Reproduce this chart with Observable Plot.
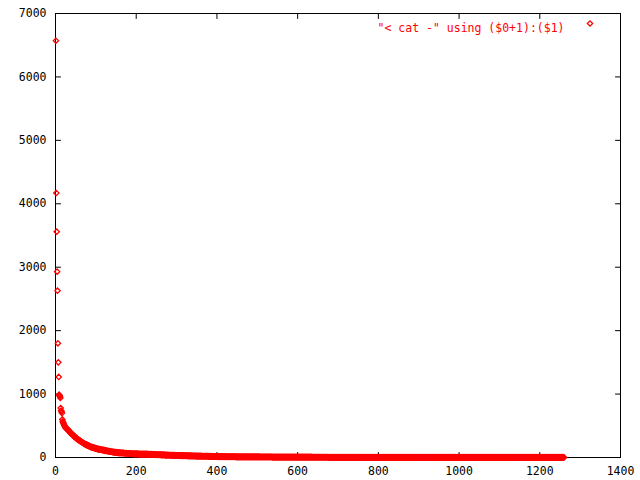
<!DOCTYPE html>
<html>
<head>
<meta charset="utf-8">
<script src="https://cdn.jsdelivr.net/npm/d3@7"></script>
<script src="https://cdn.jsdelivr.net/npm/@observablehq/plot@0.6"></script>
<style>
  html, body { margin: 0; padding: 0; background: #fff; }
</style>
</head>
<body>
<div id="chart"></div>
<script>
// Values (rank = $0+1, value = $1)
const headValues = [6570, 4170, 3560, 2930, 2630, 1800, 1500, 1270, 990, 975, 960, 940, 780, 740, 720, 700, 600,
  570, 550, 535, 520, 505, 495, 485, 470];
// Remaining ranks as runs: value repeated count times
const runValues = [460, 450, 440, 425, 410, 395,
  378, 360, 342, 325, 308, 292,
  278, 265, 252, 240, 228,
  215, 205, 195, 184, 172,
  163, 155, 148, 140, 133, 127,
  122, 115, 108, 102, 96,
  90, 86, 82, 78, 74,
  71, 67, 63, 59,
  56, 54, 52, 50,
  47, 44, 41, 38, 36, 34,
  32, 30, 28, 26, 24, 22, 20, 18,
  16, 14, 12, 10, 9, 8, 7, 6, 5, 4, 3, 2,
  1];
const runCounts = [2, 2, 2, 2, 2, 2,
  3, 3, 3, 3, 3, 3,
  3, 3, 3, 3, 3,
  3, 3, 4, 4, 3,
  4, 4, 4, 4, 4, 4,
  5, 5, 5, 5, 5,
  5, 5, 5, 5, 5,
  8, 8, 8, 8,
  12, 12, 12, 11,
  10, 10, 10, 10, 10, 7,
  10, 10, 10, 10, 10, 15, 15, 9,
  15, 20, 25, 30, 30, 30, 30, 35, 35, 40, 40, 37,
  507];

const xTicks = [0, 200, 400, 600, 800, 1000, 1200, 1400];
const yTicks = [0, 1000, 2000, 3000, 4000, 5000, 6000, 7000];
const legendLabel = "\"< cat -\" using ($0+1):($1)";

const values = headValues.slice();
runValues.forEach((v, i) => { for (let k = 0; k < runCounts[i]; k++) values.push(v); });
const rows = values.map((v, i) => ({rank: i + 1, value: v}));

const red = "#ff0000";
const tickShape = {draw(context, l) { context.moveTo(0, 0); context.lineTo(0, -l); }};
const tickOpts = {length: 5, anchor: "start", shape: tickShape, stroke: "#000", strokeWidth: 1};
const dotOpts = {symbol: "diamond2", r: 2.4, stroke: red, strokeWidth: 1.3, fill: "none"};

const chart = Plot.plot({
  width: 640,
  height: 480,
  marginLeft: 55,
  marginRight: 20,
  marginTop: 13,
  marginBottom: 23,
  style: {fontFamily: "'DejaVu Sans Mono', monospace", fontSize: "11.5px", color: "#000", background: "#fff"},
  x: {domain: [0, 1400]},
  y: {domain: [0, 7000]},
  marks: [
    Plot.frame({stroke: "#000", strokeWidth: 1}),
    Plot.axisX({anchor: "bottom", ticks: xTicks, tickSize: 0, tickPadding: 9, tickFormat: d3.format("d"), label: null}),
    Plot.axisY({anchor: "left", ticks: yTicks, tickSize: 0, tickPadding: 9, tickFormat: d3.format("d"), label: null}),
    Plot.vector(xTicks, {x: d => d, frameAnchor: "bottom", rotate: 0, ...tickOpts}),
    Plot.vector(xTicks, {x: d => d, frameAnchor: "top", rotate: 180, ...tickOpts}),
    Plot.vector(yTicks, {y: d => d, frameAnchor: "left", rotate: 90, ...tickOpts}),
    Plot.vector(yTicks, {y: d => d, frameAnchor: "right", rotate: -90, ...tickOpts}),
    Plot.dot(rows, {x: "rank", y: "value", ...dotOpts}),
    Plot.text([legendLabel], {text: d => d, frameAnchor: "top-right", dx: -56, dy: 10, textAnchor: "end", fill: red}),
    Plot.dot([legendLabel], {frameAnchor: "top-right", dx: -30.5, dy: 10, ...dotOpts})
  ]
});
document.getElementById("chart").appendChild(chart);
</script>
</body>
</html>
